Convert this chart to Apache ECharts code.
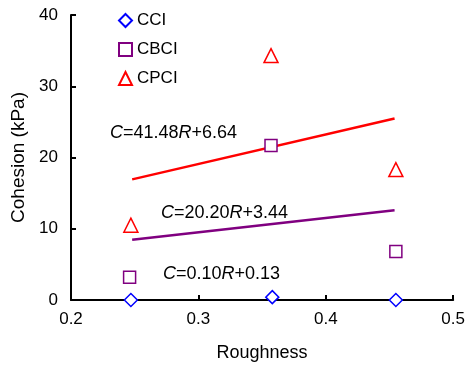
<!DOCTYPE html>
<html>
<head>
<meta charset="utf-8">
<script src="https://cdn.jsdelivr.net/npm/echarts@6/dist/echarts.min.js"></script>
<style>
  html, body { margin: 0; padding: 0; background: #fff; }
  #main { width: 468px; height: 367px; }
</style>
</head>
<body>
<div id="main"></div>
<script>
// 数据点 (粗糙度, 粘聚力 kPa)
const cciData = [[0.247, 0.0], [0.358, 0.4], [0.455, 0.0]]
const cbciData = [[0.246, 3.2], [0.357, 21.7], [0.455, 6.8]]
const cpciData = [[0.247, 10.5], [0.357, 34.3], [0.455, 18.3]]
// 拟合线端点 (CCI 拟合线贴着 x 轴, 原图看不见, 不画)
const cbciFit = [[0.248, 8.45], [0.454, 12.61]]
const cpciFit = [[0.248, 16.93], [0.454, 25.47]]
const xTicks = [0.2, 0.3, 0.4, 0.5]
const yTicks = [0, 10, 20, 30, 40]

const font = 'Liberation Sans, Arial, sans-serif'
const chart = echarts.init(document.getElementById('main'), null, { renderer: 'canvas' })

function eq(a, b) {
  // C=aR+b 斜体 C 和 R
  return '{i|C}=' + a + '{i|R}+' + b
}
const eqRich = {
  i: { fontStyle: 'italic', fontSize: 18, fontFamily: font, color: '#000' }
}

const option = {
  animation: false,
  textStyle: { fontFamily: font },
  grid: { left: 71, right: 12, top: 15, bottom: 66 },
  legend: {
    orient: 'vertical',
    left: 113,
    top: 7,
    itemWidth: 13,
    itemHeight: 13,
    itemGap: 12,
    textStyle: { fontSize: 17, color: '#000', fontFamily: font },
    data: ['CCI', 'CBCI', 'CPCI']
  },
  xAxis: {
    type: 'value',
    min: xTicks[0],
    max: xTicks[xTicks.length - 1],
    interval: 0.1,
    name: 'Roughness',
    nameLocation: 'middle',
    nameGap: 44,
    nameTextStyle: { fontSize: 18, color: '#000', fontFamily: font },
    axisLine: { lineStyle: { color: '#000', width: 2 } },
    axisTick: { inside: true, length: 5, lineStyle: { color: '#000', width: 2 } },
    axisLabel: { fontSize: 17, color: '#000', margin: 11, fontFamily: font,
      formatter: v => v.toFixed(1) },
    splitLine: { show: false }
  },
  yAxis: {
    type: 'value',
    min: yTicks[0],
    max: yTicks[yTicks.length - 1],
    interval: 10,
    name: 'Cohesion (kPa)',
    nameLocation: 'middle',
    nameGap: 43,
    nameTextStyle: { fontSize: 19, color: '#000', fontFamily: font },
    axisLine: { show: true, lineStyle: { color: '#000', width: 2 } },
    axisTick: { show: true, inside: true, length: 5, lineStyle: { color: '#000', width: 2 } },
    axisLabel: { fontSize: 17, color: '#000', margin: 13, fontFamily: font },
    splitLine: { show: false }
  },
  series: [
    {
      name: 'CCI', type: 'scatter', symbol: 'diamond', symbolSize: 13,
      itemStyle: { color: '#fff', borderColor: '#0000FF', borderWidth: 1.5, opacity: 1 },
      data: cciData, z: 5
    },
    {
      name: 'CBCI', type: 'scatter', symbol: 'rect', symbolSize: 12,
      itemStyle: { color: '#fff', borderColor: '#800080', borderWidth: 1.5, opacity: 1 },
      data: cbciData, z: 5
    },
    {
      name: 'CPCI', type: 'scatter', symbol: 'triangle', symbolSize: 14,
      itemStyle: { color: '#fff', borderColor: '#FF0000', borderWidth: 1.5, opacity: 1 },
      data: cpciData, z: 5
    },
    {
      name: 'CBCI fit', type: 'line', symbol: 'none', data: cbciFit,
      lineStyle: { color: '#800080', width: 2.5 }, z: 3
    },
    {
      name: 'CPCI fit', type: 'line', symbol: 'none', data: cpciFit,
      lineStyle: { color: '#FF0000', width: 2.5 }, z: 3
    }
  ],
  graphic: [
    { type: 'text', left: 110, top: 124,
      style: { text: eq('41.48', '6.64'), rich: eqRich, font: '18px ' + font, fill: '#000' } },
    { type: 'text', left: 161, top: 204,
      style: { text: eq('20.20', '3.44'), rich: eqRich, font: '18px ' + font, fill: '#000' } },
    { type: 'text', left: 163, top: 265,
      style: { text: eq('0.10', '0.13'), rich: eqRich, font: '18px ' + font, fill: '#000' } }
  ]
}
chart.setOption(option)
</script>
</body>
</html>
